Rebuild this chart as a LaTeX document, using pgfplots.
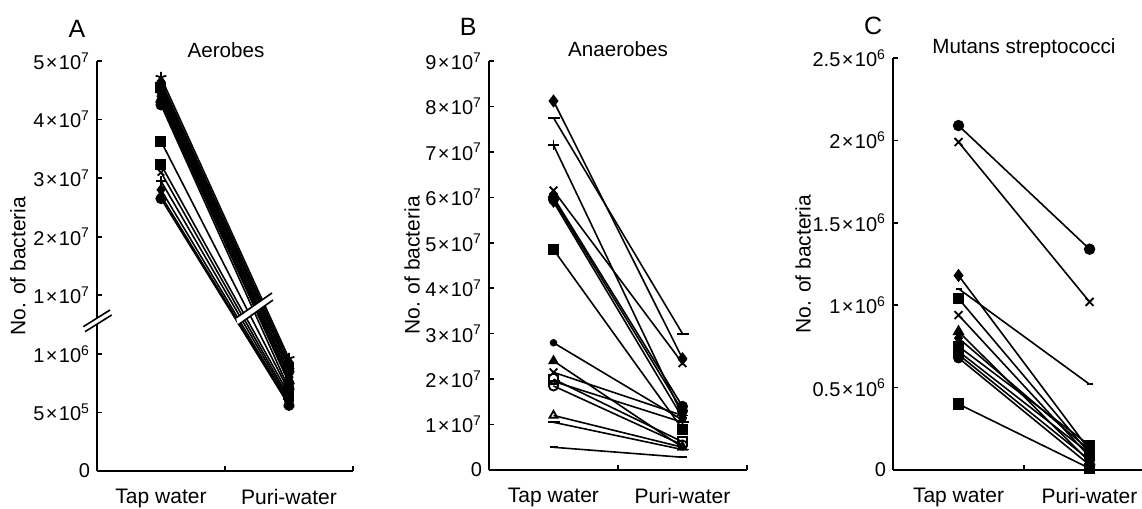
\documentclass[border=0pt]{standalone}
\usepackage{fontspec}
\setmainfont{Liberation Sans}
\usepackage{pgfplots}
\pgfplotsset{compat=1.18}
\usetikzlibrary{plotmarks}

% tick label like 5 x 10^7
\newcommand{\tl}[2]{#1\kern0.07em×\kern0.07em10\textsuperscript{#2}}

% broken axis of panel A: 0..1e6 in steps of 5e5, then 1e7..5e7 in steps of 1e7
\newcommand{\brk}[1]{%
  \begingroup
  \pgfkeys{/pgf/fpu=true,/pgf/fpu/output format=fixed}%
  \pgfmathparse{(#1>9e6)*(2+#1/1e7)+(1-(#1>9e6))*(#1/5e5)}%
  \xdef\brkres{\pgfmathresult}%
  \endgroup
  \let\pgfmathresult\brkres}

\pgfplotsset{
  panel/.style={
    scale only axis, anchor=south west, clip=false,
    axis lines*=left, axis line style={line width=0.9pt},
    tick align=inside, major tick length=2.5pt,
    tick style={black, line width=0.8pt},
    xmin=0, xmax=2,
    xtick={1,2}, xticklabels={},
    extra x ticks={0.5,1.5}, extra x tick labels={Tap water,Puri-water},
    extra x tick style={tick style={draw=none}},
    xticklabel style={font=\fontsize{10.5}{12}\selectfont, yshift=-5.5pt},
    yticklabel style={font=\fontsize{10}{12}\selectfont},
    scaled y ticks=false,
    every axis y label/.style={rotate=90, anchor=center, font=\fontsize{10.5}{12}\selectfont},
    ylabel={No. of bacteria},
  },
  s/.style={black, line width=0.8pt, mark size=2.3pt, mark options={solid, fill=black, line width=0.9pt}},
  o/.style={s, mark options={solid, fill=white, line width=0.9pt}},
}

\begin{document}
\begin{tikzpicture}
\useasboundingbox (0,0) rectangle (571pt,254.5pt);

% ---------------- A: aerobes (broken axis) ----------------
\begin{axis}[panel, at={(48.5pt,19pt)}, width=128pt, height=205pt,
  y coord trafo/.code={\brk{#1}},
  ymin=0, ymax=5e7,
  ytick={0,5e5,1e6,1e7,2e7,3e7,4e7,5e7},
  yticklabels={0,\tl{5}{5},\tl{1}{6},\tl{1}{7},\tl{2}{7},\tl{3}{7},\tl{4}{7},\tl{5}{7}},
  ylabel style={at={(axis description cs:-0.309,0.5)}}]
\addplot[s, mark=star, mark size=2.8pt] coordinates {(0.5,4.72e7) (1.5,9.6e5)};
\addplot[s, mark=diamond*] coordinates {(0.5,4.65e7) (1.5,9.3e5)};
\addplot[s, mark=triangle*] coordinates {(0.5,4.6e7) (1.5,9.0e5)};
\addplot[s, mark=square*] coordinates {(0.5,4.55e7) (1.5,8.8e5)};
\addplot[s, mark=*] coordinates {(0.5,4.5e7) (1.5,8.5e5)};
\addplot[s, mark=x] coordinates {(0.5,4.45e7) (1.5,8.2e5)};
\addplot[s, mark=diamond*] coordinates {(0.5,4.4e7) (1.5,8.0e5)};
\addplot[s, mark=triangle*] coordinates {(0.5,4.35e7) (1.5,7.7e5)};
\addplot[s, mark=*] coordinates {(0.5,4.3e7) (1.5,7.5e5)};
\addplot[s, mark=*] coordinates {(0.5,4.25e7) (1.5,7.0e5)};
\addplot[s, mark=square*] coordinates {(0.5,3.63e7) (1.5,6.8e5)};
\addplot[s, mark=square*] coordinates {(0.5,3.23e7) (1.5,6.5e5)};
\addplot[s, mark=x] coordinates {(0.5,3.1e7) (1.5,6.2e5)};
\addplot[s, mark=+] coordinates {(0.5,2.95e7) (1.5,6.0e5)};
\addplot[s, mark=diamond*] coordinates {(0.5,2.8e7) (1.5,5.8e5)};
\addplot[s, mark=triangle*] coordinates {(0.5,2.7e7) (1.5,5.7e5)};
\addplot[s, mark=*] coordinates {(0.5,2.65e7) (1.5,5.6e5)};
\node[font=\fontsize{12.5}{14}\selectfont] at (axis description cs:-0.078,1.078) {A};
\node[font=\fontsize{10.3}{12}\selectfont] at (axis description cs:0.504,1.027) {Aerobes};
\end{axis}

% ---------------- B: anaerobes ----------------
\begin{axis}[panel, at={(244.5pt,19.5pt)}, width=129pt, height=204.5pt,
  ymin=0, ymax=9e7,
  ytick={0,1e7,2e7,3e7,4e7,5e7,6e7,7e7,8e7,9e7},
  yticklabels={0,\tl{1}{7},\tl{2}{7},\tl{3}{7},\tl{4}{7},\tl{5}{7},\tl{6}{7},\tl{7}{7},\tl{8}{7},\tl{9}{7}},
  ylabel style={at={(axis description cs:-0.298,0.5)}}]
\addplot[s, mark=diamond*, mark size=2.6pt] coordinates {(0.5,8.12e7) (1.5,2.45e7)};
\addplot[s, mark=-, mark size=3pt] coordinates {(0.5,7.75e7) (1.5,3.0e7)};
\addplot[s, mark=+, mark size=2.7pt] coordinates {(0.5,7.15e7) (1.5,1.2e7)};
\addplot[s, mark=x, mark size=2.7pt] coordinates {(0.5,6.15e7) (1.5,2.35e7)};
\addplot[s, mark=*] coordinates {(0.5,6.0e7) (1.5,1.4e7)};
\addplot[s, mark=*] coordinates {(0.5,5.95e7) (1.5,1.3e7)};
\addplot[s, mark=diamond*] coordinates {(0.5,5.9e7) (1.5,1.15e7)};
\addplot[s, mark=square*] coordinates {(0.5,4.85e7) (1.5,0.9e7)};
\addplot[s, mark=*, mark size=1.4pt] coordinates {(0.5,2.8e7) (1.5,1.1e7)};
\addplot[s, mark=triangle*] coordinates {(0.5,2.4e7) (1.5,0.5e7)};
\addplot[s, mark=x, mark size=2.7pt] coordinates {(0.5,2.15e7) (1.5,1.2e7)};
\addplot[o, mark=square] coordinates {(0.5,2.0e7) (1.5,0.62e7)};
\addplot[s, mark=-, mark size=3pt] coordinates {(0.5,1.95e7) (1.5,1.05e7)};
\addplot[o, mark=o] coordinates {(0.5,1.85e7) (1.5,0.55e7)};
\addplot[o, mark=triangle] coordinates {(0.5,1.2e7) (1.5,0.5e7)};
\addplot[s, mark=-, mark size=3pt] coordinates {(0.5,1.05e7) (1.5,0.45e7)};
\addplot[s, mark=-, mark size=2pt] coordinates {(0.5,0.5e7) (1.5,0.28e7)};
\node[font=\fontsize{12.5}{14}\selectfont] at (axis description cs:-0.081,1.083) {B};
\node[font=\fontsize{10.3}{12}\selectfont] at (axis description cs:0.5,1.029) {Anaerobes};
\end{axis}

% ---------------- C: mutans streptococci ----------------
\begin{axis}[panel, at={(446.5pt,19.5pt)}, width=124.5pt, height=206pt,
  xmax=1.9, xtick={1},
  ymin=0, ymax=2.5e6,
  ytick={0,0.5e6,1e6,1.5e6,2e6,2.5e6},
  yticklabels={0,\tl{0.5}{6},\tl{1}{6},\tl{1.5}{6},\tl{2}{6},\tl{2.5}{6}},
  ylabel style={at={(axis description cs:-0.361,0.5)}}]
\addplot[s, mark=*, mark size=2.4pt] coordinates {(0.5,2.09e6) (1.5,1.34e6)};
\addplot[s, mark=x, mark size=2.8pt] coordinates {(0.5,1.99e6) (1.5,1.02e6)};
\addplot[s, mark=diamond*, mark size=2.6pt] coordinates {(0.5,1.18e6) (1.5,0.12e6)};
\addplot[s, mark=-, mark size=1.5pt] coordinates {(0.5,1.1e6) (1.5,0.52e6)};
\addplot[s, mark=square*, mark size=2.4pt] coordinates {(0.5,1.04e6) (1.5,0.1e6)};
\addplot[s, mark=x, mark size=2.8pt] coordinates {(0.5,0.94e6) (1.5,0.08e6)};
\addplot[s, mark=triangle*, mark size=2.6pt] coordinates {(0.5,0.84e6) (1.5,0.05e6)};
\addplot[s, mark=diamond*] coordinates {(0.5,0.8e6) (1.5,0.12e6)};
\addplot[s, mark=square*, mark size=2.4pt] coordinates {(0.5,0.75e6) (1.5,0.15e6)};
\addplot[s, mark=square*] coordinates {(0.5,0.72e6) (1.5,0.1e6)};
\addplot[s, mark=*] coordinates {(0.5,0.7e6) (1.5,0.06e6)};
\addplot[s, mark=*] coordinates {(0.5,0.68e6) (1.5,0.03e6)};
\addplot[s, mark=square*, mark size=2.4pt] coordinates {(0.5,0.4e6) (1.5,0.01e6)};
\node[font=\fontsize{12.5}{14}\selectfont] at (axis description cs:-0.08,1.078) {C};
\node[font=\fontsize{10.3}{12}\selectfont] at (axis description cs:0.526,1.024) {Mutans streptococci};
\end{axis}

% break marks on panel A (picture drawn in pixel units of the reference)
\begin{scope}[shift={(0,254.5pt)}, x=0.5pt, y=-0.5pt]
  \draw[white, line width=2.2pt] (84,329.2) -- (110.8,312.5);
  \draw[black, line width=0.8pt] (83.3,326.7) -- (110,310);
  \draw[black, line width=0.8pt] (85,331.7) -- (111.7,315);
  \fill[white] (236,318) -- (272,293) -- (273,300) -- (238,325) -- cycle;
  \draw[black, line width=0.8pt] (236,318) -- (272,293);
  \draw[black, line width=0.8pt] (238,325) -- (273,300);
\end{scope}
\end{tikzpicture}
\end{document}
